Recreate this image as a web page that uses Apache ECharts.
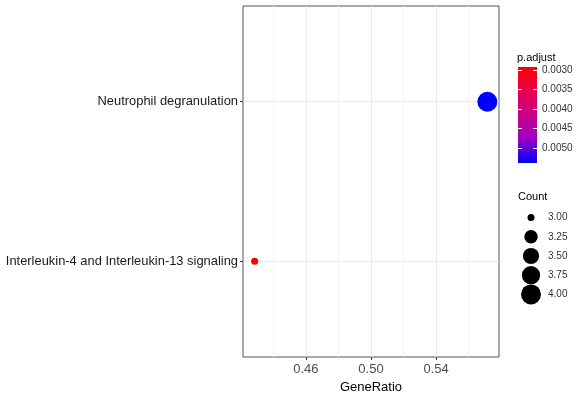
<!DOCTYPE html>
<html>
<head>
<meta charset="utf-8">
<script src="https://cdn.jsdelivr.net/npm/echarts@6/dist/echarts.min.js"></script>
<style>html,body{margin:0;padding:0;background:#fff}#c{width:579px;height:399px}</style>
</head>
<body>
<div id="c"></div>
<script>
// ---- data ----
var categories = ['Interleukin-4 and Interleukin-13 signaling', 'Neutrophil degranulation'];
var geneRatio = [3/7, 4/7];
var counts = [3, 4];
var pAdjust = [0.00292, 0.00539];
var xTicks = [0.46, 0.50, 0.54];
var xMinorTicks = [0.44, 0.48, 0.52, 0.56];
var pTicks = [0.0030, 0.0035, 0.0040, 0.0045, 0.0050];
var countLegend = [3.00, 3.25, 3.50, 3.75, 4.00];

// ---- helpers ----
var countMin = Math.min.apply(null, counts), countMax = Math.max.apply(null, counts);
function sizeFor(c) {
  var t = (c - countMin) / (countMax - countMin);
  return 7 + 13 * Math.sqrt(Math.max(0, t));
}
var gMin = Math.min.apply(null, geneRatio), gMax = Math.max.apply(null, geneRatio);
var xMin = gMin - (gMax - gMin) * 0.05, xMax = gMax + (gMax - gMin) * 0.05;
var pMin = Math.min.apply(null, pAdjust), pMax = Math.max.apply(null, pAdjust);
var gradColors = ['#FF0000', '#E8004F', '#CA0088', '#9A00C3', '#0000FF'];

var pts = categories.map(function (c, i) {
  return [geneRatio[i], i + 1, counts[i], pAdjust[i]];
});

var gridLines = [];
xTicks.forEach(function (v) { gridLines.push({ xAxis: v, lineStyle: { color: '#ebebeb', width: 1, type: 'solid' } }); });
xMinorTicks.forEach(function (v) { gridLines.push({ xAxis: v, lineStyle: { color: '#f3f3f3', width: 1, type: 'solid' } }); });
categories.forEach(function (c, i) { gridLines.push({ yAxis: i + 1, lineStyle: { color: '#ebebeb', width: 1, type: 'solid' } }); });

var barGradient = {
  type: 'linear', x: 0, y: 0, x2: 0, y2: 1,
  colorStops: gradColors.map(function (c, i) { return { offset: i / (gradColors.length - 1), color: c }; })
};

var font = 'Liberation Sans, Arial, sans-serif';
var chart = echarts.init(document.getElementById('c'), null, { renderer: 'canvas' });
chart.setOption({
  animation: false,
  backgroundColor: '#fff',
  title: [
    { text: 'p.adjust', left: 517, top: 52, textStyle: { fontSize: 11, fontWeight: 'normal', color: '#000', fontFamily: font }, padding: 0 },
    { text: 'Count', left: 518, top: 191, textStyle: { fontSize: 11, fontWeight: 'normal', color: '#000', fontFamily: font }, padding: 0 }
  ],
  grid: [
    { left: 243, right: 80, top: 6, bottom: 42, show: true, borderColor: '#555', borderWidth: 1, backgroundColor: '#fff', containLabel: false },
    { left: 518, width: 19, top: 67, height: 96, show: true, borderWidth: 0, backgroundColor: barGradient, containLabel: false },
    { left: 521, width: 20, top: 208, height: 96, show: false, containLabel: false }
  ],
  xAxis: [
    {
      gridIndex: 0, type: 'value', min: xMin, max: xMax,
      name: 'GeneRatio', nameLocation: 'middle', nameGap: 23,
      nameTextStyle: { fontSize: 13, color: '#000', fontFamily: font },
      axisLine: { show: false },
      axisTick: { show: true, length: 3, lineStyle: { color: '#333' }, customValues: xTicks },
      axisLabel: { fontSize: 13, color: '#4d4d4d', margin: 6, fontFamily: font, customValues: xTicks,
        formatter: function (v) { return v.toFixed(2); } },
      splitLine: { show: false }
    },
    { gridIndex: 1, type: 'value', min: 0, max: 1, show: false },
    { gridIndex: 2, type: 'value', min: 0, max: 1, show: false }
  ],
  yAxis: [
    {
      gridIndex: 0, type: 'value', min: 0.4, max: categories.length + 0.6,
      axisLine: { show: false },
      axisTick: { show: true, length: 3, lineStyle: { color: '#333' }, customValues: [1, 2] },
      axisLabel: { fontSize: 12.9, color: '#1a1a1a', margin: 5, fontFamily: font, customValues: [1, 2],
        formatter: function (v) { return categories[Math.round(v) - 1] || ''; } },
      splitLine: { show: false }
    },
    {
      gridIndex: 1, type: 'value', min: pMin, max: pMax, inverse: true, position: 'left',
      axisLine: { show: false },
      axisTick: { show: true, inside: true, length: 4, lineStyle: { color: '#fff', width: 1 }, customValues: pTicks },
      axisLabel: { show: false },
      splitLine: { show: false }
    },
    {
      gridIndex: 1, type: 'value', min: pMin, max: pMax, inverse: true, position: 'right',
      axisLine: { show: false },
      axisTick: { show: true, inside: true, length: 4, lineStyle: { color: '#fff', width: 1 }, customValues: pTicks },
      axisLabel: { show: true, fontSize: 10, color: '#333', margin: 5, fontFamily: font, customValues: pTicks,
        formatter: function (v) { return v.toFixed(4); } },
      splitLine: { show: false }
    },
    {
      gridIndex: 2, type: 'category', inverse: true, position: 'right',
      data: countLegend.map(function (v) { return v.toFixed(2); }),
      axisLine: { show: false }, axisTick: { show: false },
      axisLabel: { fontSize: 10, color: '#333', margin: 7, fontFamily: font },
      splitLine: { show: false }
    }
  ],
  visualMap: [{
    type: 'continuous', show: false, seriesIndex: 1, dimension: 3,
    min: pMin, max: pMax,
    inRange: { color: gradColors }
  }],
  series: [
    {
      type: 'scatter', xAxisIndex: 0, yAxisIndex: 0, data: [], z: 1, silent: true,
      markLine: { silent: true, symbol: 'none', label: { show: false }, animation: false, data: gridLines }
    },
    {
      type: 'scatter', xAxisIndex: 0, yAxisIndex: 0, z: 5,
      data: pts,
      symbolSize: function (d) { return sizeFor(d[2]); },
      itemStyle: { opacity: 1 }
    },
    {
      type: 'scatter', xAxisIndex: 2, yAxisIndex: 3, z: 5,
      data: countLegend.map(function (v) { return [0.5, v.toFixed(2), v]; }),
      symbolSize: function (d) { return sizeFor(d[2]); },
      itemStyle: { color: '#000', opacity: 1 }
    }
  ]
});
</script>
</body>
</html>
